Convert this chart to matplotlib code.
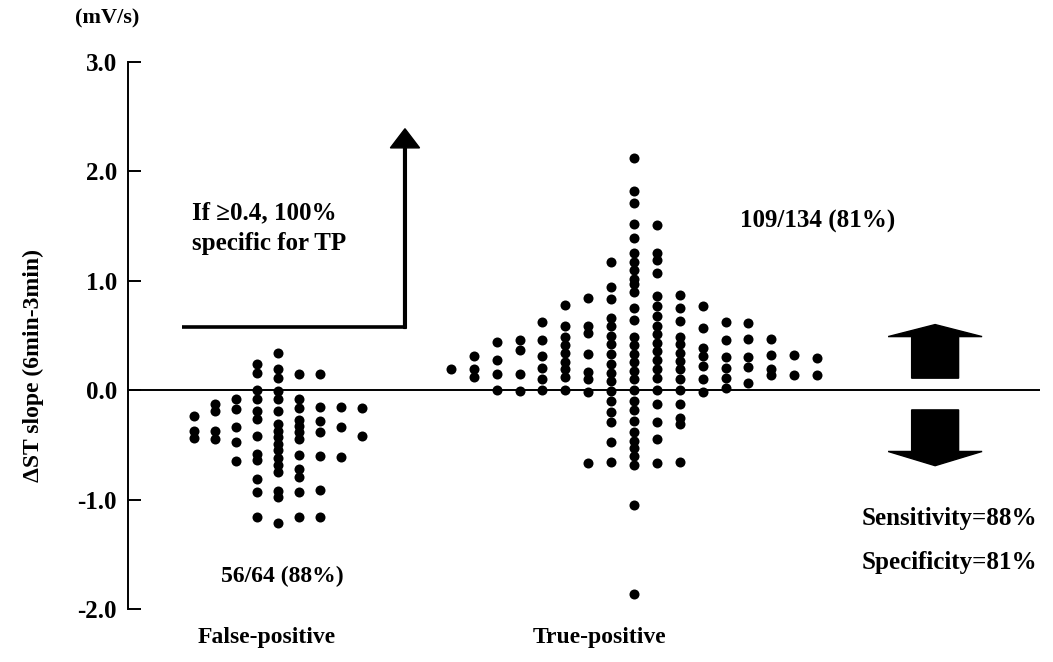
import matplotlib.pyplot as plt
import numpy as np

plt.rcParams['font.family'] = ['Liberation Serif', 'DejaVu Serif']
plt.rcParams['font.weight'] = 'bold'
plt.rcParams['axes.labelweight'] = 'bold'

# dot-plot columns (mV/s), read left to right
fp_columns = [
    [-0.24, -0.37, -0.44],
    [-0.13, -0.19, -0.37, -0.45],
    [-0.08, -0.17, -0.34, -0.47, -0.65],
    [0.24, 0.16, 0.0, -0.08, -0.19, -0.26, -0.42, -0.58, -0.64, -0.81, -0.93, -1.16],
    [0.34, 0.19, 0.11, -0.01, -0.08, -0.19, -0.31, -0.37, -0.43, -0.49, -0.55,
     -0.62, -0.68, -0.75, -0.92, -0.98, -1.21],
    [0.15, -0.08, -0.16, -0.27, -0.33, -0.38, -0.45, -0.59, -0.72, -0.79, -0.93, -1.16],
    [0.15, -0.15, -0.28, -0.38, -0.60, -0.91, -1.16],
    [-0.15, -0.34, -0.61],
    [-0.16, -0.42],
]

tp_columns = [
    [0.19],
    [0.31, 0.19, 0.12],
    [0.44, 0.28, 0.15, 0.0],
    [0.46, 0.37, 0.15, -0.01],
    [0.62, 0.46, 0.31, 0.20, 0.10, 0.0],
    [0.78, 0.59, 0.49, 0.41, 0.34, 0.26, 0.19, 0.12, 0.0],
    [0.84, 0.59, 0.52, 0.33, 0.17, 0.10, -0.02, -0.67],
    [1.17, 0.94, 0.83, 0.66, 0.59, 0.50, 0.42, 0.33, 0.24, 0.16, 0.08, -0.01,
     -0.10, -0.20, -0.29, -0.47, -0.66],
    [2.12, 1.82, 1.71, 1.52, 1.39, 1.25, 1.17, 1.10, 1.02, 0.97, 0.90, 0.75, 0.64,
     0.49, 0.41, 0.33, 0.26, 0.18, 0.10, 0.0, -0.10, -0.18, -0.28, -0.38, -0.46,
     -0.53, -0.60, -0.68, -1.05, -1.86],
    [1.51, 1.25, 1.19, 1.07, 0.86, 0.77, 0.68, 0.59, 0.51, 0.43, 0.36, 0.28, 0.19,
     0.11, 0.0, -0.13, -0.29, -0.45, -0.67],
    [0.87, 0.75, 0.63, 0.49, 0.42, 0.34, 0.27, 0.19, 0.10, 0.0, -0.13, -0.25, -0.31, -0.66],
    [0.77, 0.57, 0.39, 0.31, 0.22, 0.10, -0.02],
    [0.62, 0.46, 0.30, 0.20, 0.11, 0.02],
    [0.61, 0.47, 0.30, 0.21, 0.07],
    [0.47, 0.32, 0.19, 0.14],
    [0.32, 0.14],
    [0.29, 0.14],
]

group_labels = ['False-positive', 'True-positive']
ytick_vals = [-2.0, -1.0, 0.0, 1.0, 2.0, 3.0]
ytick_labels = ['-2.0', '-1.0', '0.0', '1.0', '2.0', '3.0']

fig = plt.figure(figsize=(10.53, 6.62), dpi=100)
ax = fig.add_axes([128 / 1053, 53 / 662, 912 / 1053, 547 / 662])
ax.set_xlim(0, 10)
ax.set_ylim(-2.0, 3.0)


def draw_columns(columns, center, step):
    mid = (len(columns) - 1) / 2.0
    for i, col in enumerate(columns):
        x = center + (i - mid) * step
        ax.scatter(np.full(len(col), x), col, s=52, c='black', linewidths=0, zorder=3)


draw_columns(fp_columns, 1.645, 0.23)
draw_columns(tp_columns, 5.548, 0.251)

ax.axhline(0, color='black', lw=1.4, zorder=2)

for side in ['top', 'right', 'bottom']:
    ax.spines[side].set_visible(False)
ax.spines['left'].set_linewidth(1.4)

ax.set_yticks(ytick_vals)
ax.set_yticklabels(ytick_labels, fontsize=18)
ax.tick_params(axis='y', direction='in', length=9, width=1.4, pad=8)
ax.set_xticks([1.524, 5.175])
ax.set_xticklabels(group_labels, fontsize=17)
ax.tick_params(axis='x', length=0, pad=13)

ax.set_ylabel('\u0394ST slope (6min-3min)', fontsize=17)
ax.yaxis.set_label_coords(-0.092, 0.446)
fig.text(107 / 1053, 1 - 18 / 662, '(mV/s)', ha='center', va='center', fontsize=16)

# threshold bracket arrow
ax.plot([0.592, 3.037], [0.58, 0.58], color='black', lw=2.6, solid_capstyle='butt')
ax.arrow(3.037, 0.565, 0, 2.39 - 0.565, width=0.03, head_width=0.32, head_length=0.175,
         length_includes_head=True, color='black')
ax.text(0.70, 1.62, 'If \u22650.4, 100%', fontsize=18, va='center')
ax.text(0.70, 1.34, 'specific for TP', fontsize=18, va='center')

# big up / down arrows
ax.arrow(8.85, 0.11, 0, 0.49, width=0.515, head_width=1.03, head_length=0.11,
         length_includes_head=True, color='black')
ax.arrow(8.85, -0.18, 0, -0.51, width=0.515, head_width=1.03, head_length=0.13,
         length_includes_head=True, color='black')

ax.text(6.71, 1.54, '109/134 (81%)', fontsize=18, va='center')
ax.text(1.69, -1.70, '56/64 (88%)', fontsize=17, va='center', ha='center')
fig.text(862 / 1053, 1 - 519 / 662, 'Sensitivity=88%', fontsize=18, va='center')
fig.text(862 / 1053, 1 - 563 / 662, 'Specificity=81%', fontsize=18, va='center')

fig.savefig('out.png', dpi=100)
